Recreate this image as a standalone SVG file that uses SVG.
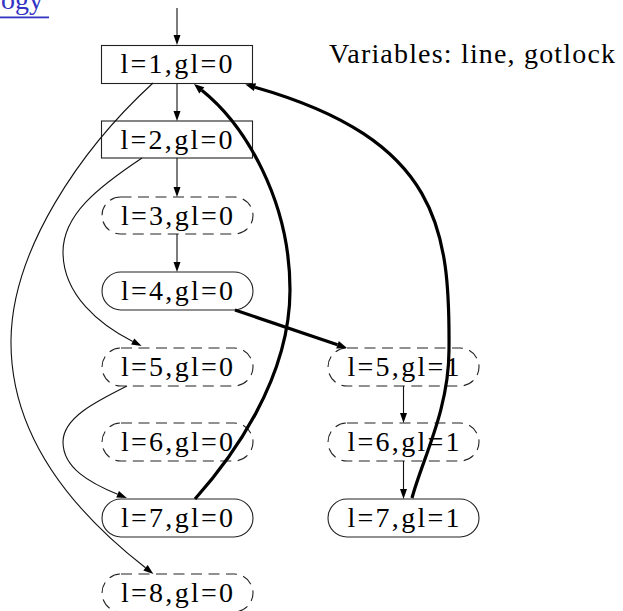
<svg xmlns="http://www.w3.org/2000/svg" width="623" height="611" viewBox="0 0 623 611">
<style>
  .lbl { font-family: "Liberation Serif", "Times New Roman", serif; font-size: 28px; fill: #000; text-anchor: middle; }
  .box { fill: none; stroke: #222; stroke-width: 1.1; }
  .dash { stroke-dasharray: 11 6.5; }
  .thin { fill: none; stroke: #111; stroke-width: 1.1; marker-end: url(#ah); }
  .thick { fill: none; stroke: #000; stroke-width: 3.2; marker-end: url(#ahb); }
</style>
<defs>
  <marker id="ah" markerUnits="userSpaceOnUse" markerWidth="10" markerHeight="7" refX="0" refY="3.5" orient="auto" overflow="visible">
    <path d="M0,0 L10,3.5 L0,7 z" fill="#000"/>
  </marker>
  <marker id="ahb" markerUnits="userSpaceOnUse" markerWidth="10" markerHeight="8" refX="0" refY="4" orient="auto" overflow="visible">
    <path d="M0,0 L10,4 L0,8 z" fill="#000"/>
  </marker>
</defs>
<rect width="623" height="611" fill="#fff"/>

<g id="link">
  <text x="1" y="8.5" font-family="Liberation Serif, serif" font-size="28" fill="#3333c4">ogy</text>
  <rect x="0" y="16.5" width="49" height="1.8" fill="#3333c4"/>
</g>

<g id="title">
  <text x="329" y="63" font-family="Liberation Serif, serif" font-size="28" textLength="286" lengthAdjust="spacing">Variables: line, gotlock</text>
</g>

<g id="n1">
  <rect class="box" x="101.5" y="45.5" width="151" height="38"/>
  <text class="lbl" x="176.5" y="73" textLength="112">l=1,gl=0</text>
</g>
<g id="n2">
  <rect class="box" x="101.5" y="121" width="151" height="37"/>
  <text class="lbl" x="176.5" y="148.5" textLength="112">l=2,gl=0</text>
</g>
<g id="n3">
  <rect class="box dash" x="102" y="197" width="151" height="37" rx="18.5"/>
  <text class="lbl" x="177" y="224.5" textLength="112">l=3,gl=0</text>
</g>
<g id="n4">
  <rect class="box" x="102" y="272" width="151" height="38" rx="19"/>
  <text class="lbl" x="177" y="300" textLength="112">l=4,gl=0</text>
</g>
<g id="n5_0">
  <rect class="box dash" x="102" y="348" width="151" height="38" rx="19"/>
  <text class="lbl" x="177" y="376" textLength="112">l=5,gl=0</text>
</g>
<g id="n6_0">
  <rect class="box dash" x="102" y="423" width="151" height="38" rx="19"/>
  <text class="lbl" x="177" y="451" textLength="112">l=6,gl=0</text>
</g>
<g id="n7_0">
  <rect class="box" x="102" y="499" width="151" height="38" rx="19"/>
  <text class="lbl" x="177" y="527" textLength="112">l=7,gl=0</text>
</g>
<g id="n8_0">
  <rect class="box dash" x="102" y="574" width="151" height="38" rx="19"/>
  <text class="lbl" x="177" y="602" textLength="112">l=8,gl=0</text>
</g>
<g id="n5_1">
  <rect class="box dash" x="328" y="348" width="151" height="38" rx="19"/>
  <text class="lbl" x="403.5" y="376" textLength="112">l=5,gl=1</text>
</g>
<g id="n6_1">
  <rect class="box dash" x="328" y="423" width="151" height="38" rx="19"/>
  <text class="lbl" x="403.5" y="451" textLength="112">l=6,gl=1</text>
</g>
<g id="n7_1">
  <rect class="box" x="328" y="499" width="151" height="38" rx="19"/>
  <text class="lbl" x="403.5" y="527" textLength="112">l=7,gl=1</text>
</g>

<g id="edges">
  <path class="thin" d="M177,8 V35"/>
  <path class="thin" d="M177,83.5 V111"/>
  <path class="thin" d="M177,158 V187"/>
  <path class="thin" d="M177,234 V262"/>
  <path class="thin" d="M403.5,386 V413"/>
  <path class="thin" d="M403.5,461 V489"/>
  <path class="thin" d="M142,158 C97,188 63,215 63,252 C63,295 100,325 132.7,341.5"/>
  <path class="thin" d="M127,386 C95,402 63,418 63,442 C63,468 90,483 117.6,494.3"/>
  <path class="thin" d="M153,83 C80,150 12,250 11,340 C10,430 65,505 145.5,567.8"/>
  <path class="thick" d="M235,310 L337.5,344.8"/>
  <path class="thick" d="M195,499 C230,460 290,380 290,290 C290,200 245,125 201.8,90.3"/>
  <path class="thick" d="M412,498 C422,460 449,410 449,350 C450,230 440,140 255,87.2"/>
</g>
</svg>
